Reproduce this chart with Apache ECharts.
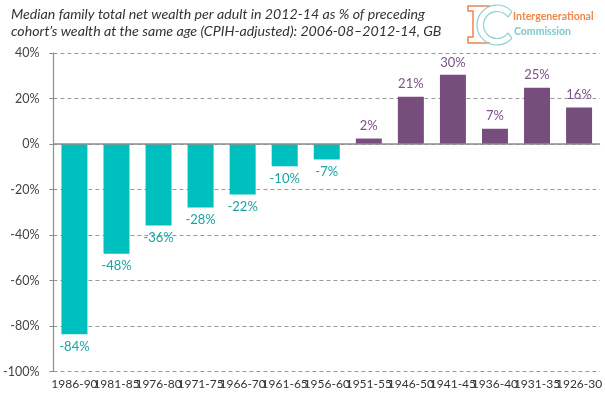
<!DOCTYPE html>
<html>
<head>
<meta charset="utf-8">
<script src="https://cdn.jsdelivr.net/npm/echarts@6/dist/echarts.min.js"></script>
<style>
  html, body { margin: 0; padding: 0; background: #fff; }
  #chart { width: 605px; height: 397px; }
</style>
</head>
<body>
<div id="chart"></div>
<script>
// birth cohorts, youngest first
var cohorts = ['1986-90', '1981-85', '1976-80', '1971-75', '1966-70', '1961-65', '1956-60',
  '1951-55', '1946-50', '1941-45', '1936-40', '1931-35', '1926-30'];
// wealth change vs preceding cohort, %
var wealthChange = [-83.6, -48.2, -35.8, -27.9, -22.2, -9.8, -6.8, 2.4, 20.8, 30.4, 6.7, 24.7, 16.0];
var yTicks = { min: -100, max: 40, step: 20 };

var teal = '#00bfbf', tealText = '#1ba3a3';
var purple = '#774d7e', purpleText = '#7b5186';
var fontName = 'Lato';
var narrowFont = '"Liberation Sans Narrow", Lato';

var barData = wealthChange.map(function (v) {
  var neg = v < 0;
  return {
    value: v,
    itemStyle: { color: neg ? teal : purple },
    label: {
      position: neg ? 'bottom' : 'top',
      color: neg ? tealText : purpleText
    }
  };
});

// logo: I-bracket and hollow C
var cx = 497, cy = 25, R = 20, r = 13.5;
var a = 42 * Math.PI / 180, b = 36 * Math.PI / 180;
var logoTeal = '#8dd0d0';
var cStyle = { stroke: logoTeal, lineWidth: 1.2, fill: null };

var mychart = echarts.init(document.getElementById('chart'));
var option = {
  backgroundColor: '#fff',
  animation: false,
  textStyle: { fontFamily: fontName },
  graphic: [
    {
      type: 'text', left: 11, top: 6,
      style: {
        text: 'Median family total net wealth per adult in 2012-14 as % of preceding\ncohort\u2019s wealth at the same age (CPIH-adjusted): 2006-08\u20132012-14, GB',
        font: 'italic 14.2px ' + fontName, fill: '#333', lineHeight: 17
      }
    },
    {
      type: 'polyline',
      shape: { points: [[490, 6], [468, 6], [468, 11], [473, 11], [473, 37], [468, 37], [468, 43], [490, 43]] },
      style: { stroke: '#f0874a', lineWidth: 1.5, fill: null }
    },
    {
      type: 'arc',
      shape: { cx: cx, cy: cy, r: R, startAngle: a, endAngle: 2 * Math.PI - a, clockwise: true },
      style: cStyle
    },
    {
      type: 'arc',
      shape: { cx: cx, cy: cy, r: r, startAngle: b, endAngle: 2 * Math.PI - b, clockwise: true },
      style: cStyle
    },
    {
      type: 'line',
      shape: { x1: cx + R * Math.cos(a), y1: cy + R * Math.sin(a), x2: cx + r * Math.cos(b), y2: cy + r * Math.sin(b) },
      style: cStyle
    },
    {
      type: 'line',
      shape: { x1: cx + R * Math.cos(a), y1: cy - R * Math.sin(a), x2: cx + r * Math.cos(b), y2: cy - r * Math.sin(b) },
      style: cStyle
    },
    {
      type: 'text', left: 513, top: 11,
      style: { text: 'Intergenerational', font: 'bold 10.5px ' + fontName, fill: '#f0874a' }
    },
    {
      type: 'text', left: 514, top: 26,
      style: { text: 'Commission', font: 'bold 10.5px ' + fontName, fill: '#7cc9c9' }
    }
  ],
  grid: { left: 51.5, right: 2, top: 53, bottom: 25.5, containLabel: false },
  xAxis: {
    type: 'category',
    data: cohorts,
    axisLine: { show: false, onZero: false },
    axisTick: { show: false },
    axisLabel: { interval: 0, margin: 7, color: '#333', fontSize: 12, fontFamily: narrowFont }
  },
  yAxis: {
    type: 'value',
    min: yTicks.min, max: yTicks.max, interval: yTicks.step,
    axisLine: { show: true, lineStyle: { color: '#8c8c8c', width: 1.2 } },
    axisTick: { show: true, length: 4, lineStyle: { color: '#8c8c8c' } },
    axisLabel: {
      margin: 14, color: '#444', fontSize: 12.5, fontFamily: fontName,
      formatter: function (v) { return v + '%'; }
    },
    splitLine: { show: true, lineStyle: { color: '#9a9a9a', type: [4, 3], width: 1 } }
  },
  series: [{
    type: 'bar',
    data: barData,
    barWidth: 26,
    label: {
      show: true, distance: 6, fontSize: 13, fontFamily: fontName,
      formatter: function (p) { return Math.round(p.value) + '%'; }
    },
    markLine: {
      silent: true, symbol: 'none', label: { show: false },
      lineStyle: { color: '#8c8c8c', type: 'solid', width: 1.5 },
      data: [{ yAxis: 0 }]
    }
  }]
};
mychart.setOption(option);
</script>
</body>
</html>
